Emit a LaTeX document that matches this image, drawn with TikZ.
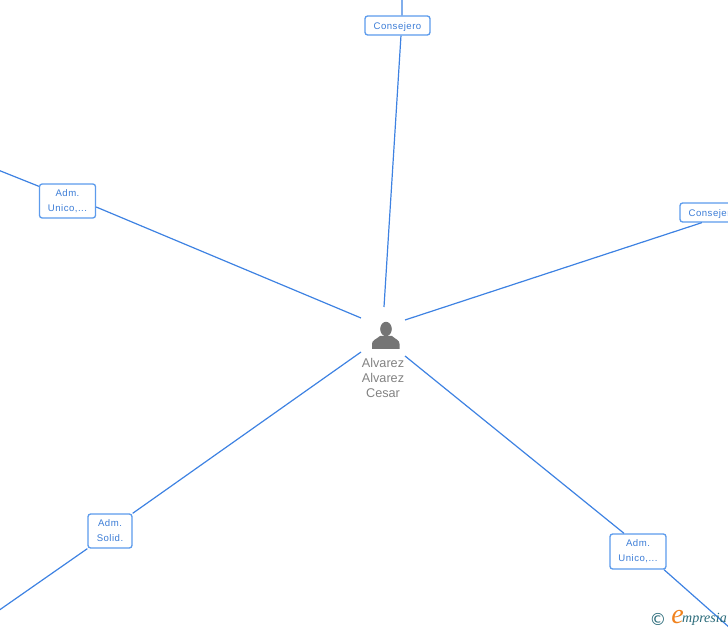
\documentclass[tikz,border=0pt]{standalone}
\usepackage{xcolor}
\usepackage{fontspec}
\setmainfont{Liberation Sans}
\newfontfamily\logofont{Liberation Serif}
\newfontfamily\copyfont{DejaVu Sans}
\newfontfamily\boxfont[LetterSpace=5]{Liberation Sans}
\usetikzlibrary{positioning}
\definecolor{linkblue}{RGB}{62,130,226}
\definecolor{boxblue}{RGB}{92,155,236}
\definecolor{textblue}{RGB}{60,125,215}
\definecolor{persongray}{RGB}{117,117,117}
\definecolor{labelgray}{RGB}{130,130,130}
\definecolor{logoteal}{RGB}{40,105,120}
\definecolor{logoorange}{RGB}{240,130,30}
\tikzset{
  link/.style   ={draw=linkblue, line width=0.9pt},
  rolebox/.style={rectangle, rounded corners=2pt, draw=boxblue, fill=white, line width=1pt,
                  align=center, inner sep=0pt, font=\boxfont\fontsize{7.2}{11.2}\selectfont,
                  text=textblue, execute at begin node={\rule{0pt}{7pt}}},
  lbl/.style    ={font=\fontsize{9.5}{11.3}\selectfont, text=labelgray, align=center, inner sep=0pt}
}
\begin{document}
\begin{tikzpicture}[x=0.75pt, y=-0.75pt]
\useasboundingbox (0,0) rectangle (728,630);
\clip (0,0) rectangle (728,630);
\coordinate (person) at (386,335);
\node[lbl] (name) at (383,378) {Alvarez\\Alvarez\\Cesar};

% role boxes
\node[rolebox, minimum width=48.75pt, minimum height=14.25pt] (top) at (397.5,25.5) {Consejero};
\node[rolebox, minimum width=48.75pt, minimum height=14.25pt] (right) at (712.5,212.5) {Consejero};
\node[rolebox, minimum width=42pt, minimum height=25.5pt] (left) at (67.5,201) {Adm.\\Unico,...};
\node[rolebox, minimum width=33pt, minimum height=25.5pt] (low) at (110,531) {Adm.\\Solid.};
\node[rolebox, minimum width=42pt, minimum height=26.25pt] (lowr) at (638,551.5) {Adm.\\Unico,...};

% free ends
\coordinate (gt) at (384,307);
\coordinate (gr) at (405,320);
\coordinate (gl) at (361,318);
\coordinate (gb) at (361,352);
\coordinate (gbr) at (405,356);
\coordinate (et) at (402,-2);
\coordinate (el) at (-2,170);
\coordinate (eb) at (-2,611);
\coordinate (ebr) at (730,628);

\draw[link] (gt) -- ([xshift=2.6pt]top.south);
\draw[link] ([xshift=3.4pt]top.north) -- (et);
\draw[link] (gr) -- ([xshift=-8pt]right.south);
\draw[link] (gl) -- ([yshift=-4.5pt]left.east);
\draw[link] ([yshift=11pt]left.west) -- (el);
\draw[link] (gb) -- (low.north east);
\draw[link] (low.south west) -- (eb);
\draw[link] (gbr) -- ([xshift=-10.5pt]lowr.north);
\draw[link] ([xshift=-2pt]lowr.south east) -- (ebr);

% person icon
\fill[persongray] (386,329) ellipse [x radius=5.8, y radius=7.2];
\fill[persongray] (372,349) -- (372,344) .. controls (372,340) and (376,339.5) .. (380,336)
  -- (392,336) .. controls (396,339.5) and (399.5,340) .. (399.5,344) -- (399.5,349) -- cycle;

% logo
\node[inner sep=0pt, text=logoteal, font=\copyfont\fontsize{12.5}{12.5}\selectfont] (copy) at (658,619) {\char"00A9};
\node[inner sep=0pt, text=logoorange, font=\logofont\itshape\fontsize{21}{21}\selectfont] (logoe) at (677.5,617) {e};
\node[inner sep=0pt, text=logoteal, font=\logofont\itshape\fontsize{10.5}{10.5}\selectfont] (logo) at (704.5,619.5) {mpresia};
\end{tikzpicture}
\end{document}
